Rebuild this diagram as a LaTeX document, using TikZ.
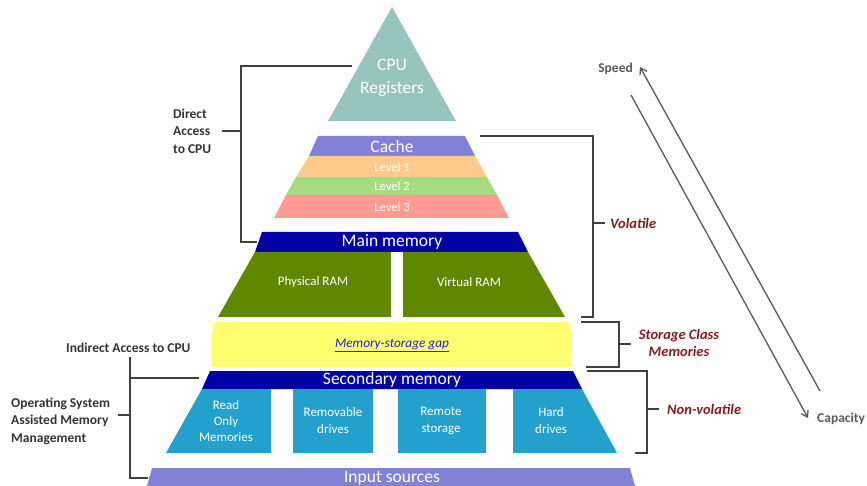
\documentclass[tikz,border=0pt]{standalone}
\usepackage{fontspec}
\setmainfont{Carlito}
\usepackage{tikz}
\usetikzlibrary{arrows.meta,positioning,calc}
\definecolor{regteal}{HTML}{97C4BF}
\definecolor{cachelav}{HTML}{8182D6}
\definecolor{lvlone}{HTML}{FFCA8C}
\definecolor{lvltwo}{HTML}{A6DC7F}
\definecolor{lvlthree}{HTML}{FF9B92}
\definecolor{bandnavy}{HTML}{0303A3}
\definecolor{ramgreen}{HTML}{5F8700}
\definecolor{gapyellow}{HTML}{FFFF70}
\definecolor{diskblue}{HTML}{23A0CB}
\definecolor{linkblue}{HTML}{2323C8}
\definecolor{rangered}{HTML}{8B1A1A}
\definecolor{bracketgray}{HTML}{404040}
\tikzset{
  memtext/.style={
    text=white,
    align=center,
    font=\fontsize{13}{17}\selectfont
  },
  memhead/.style={
    text=white,
    font=\fontsize{17.5}{20}\selectfont
  },
  memlabel/.style={
    text=black!80,
    align=left,
    inner sep=1pt,
    font=\bfseries\fontsize{13.5}{17.5}\selectfont
  },
  memrange/.style={
    text=rangered,
    align=center,
    inner sep=1pt,
    font=\bfseries\itshape\fontsize{14.5}{17}\selectfont
  },
  membracket/.style={
    draw=bracketgray,
    line width=1.1pt
  },
  memtrend/.style={
    -{Straight Barb[length=6pt,width=8pt]},
    draw=black!65,
    line width=1.3pt
  },
  memtrendlabel/.style={
    text=black!65,
    inner sep=1pt,
    font=\bfseries\fontsize{13.5}{14}\selectfont
  }
}
\begin{document}
\begin{tikzpicture}[x=1pt,y=-1pt]
    \useasboundingbox (0,0) rectangle (867,486);
    % pyramid tiers
    \fill[regteal] (392,7) -- (456,121) -- (328,121) -- cycle;
    \fill[cachelav] (318,136) -- (465,136) -- (475,156) -- (309,156) -- cycle;
    \fill[lvlone] (309,156) -- (475,156) -- (487,177) -- (296,177) -- cycle;
    \fill[lvltwo] (296,177) -- (487,177) -- (497,195) -- (286,195) -- cycle;
    \fill[lvlthree] (286,195) -- (497,195) -- (509,218) -- (274,218) -- cycle;
    \fill[bandnavy] (262,232) -- (518,232) -- (528,252) -- (255,252) -- cycle;
    \fill[ramgreen] (255,252) -- (391,252) -- (391,317) -- (218,317) -- cycle;
    \fill[ramgreen] (403,252) -- (528,252) -- (565,317) -- (403,317) -- cycle;
    \fill[gapyellow] (214,322) -- (569,322) .. controls (572,335) and (572,352) .. (571,367)
      -- (212,367) .. controls (211,352) and (211,335) .. cycle;
    \fill[bandnavy] (210,371) -- (573,371) -- (582,389) -- (202,389) -- cycle;
    \fill[diskblue] (202,389) -- (271,389) -- (271,453) -- (166,453) -- cycle;
    \fill[diskblue] (293,389) rectangle (373,453);
    \fill[diskblue] (398,389) rectangle (486,453);
    \fill[diskblue] (513,389) -- (582,389) -- (617,453) -- (513,453) -- cycle;
    \fill[cachelav] (152,468) -- (630,468) -- (635,486) -- (147,486) -- cycle;

    \node[memhead, align=center, font=\fontsize{17.5}{23}\selectfont] (cpu) at (392,78) {CPU\\Registers};
    \node[memhead] (cache) at (392,146) {Cache};
    \node[memtext, font=\fontsize{12.5}{16}\selectfont] (l1) at (392,167) {Level 1};
    \node[memtext, font=\fontsize{12.5}{16}\selectfont] (l2) at (392,186) {Level 2};
    \node[memtext, font=\fontsize{12.5}{16}\selectfont] (l3) at (392,207) {Level 3};
    \node[memhead] (mainmem) at (392,242) {Main memory};
    \node[memtext] (phys) at (313,282) {Physical RAM};
    \node[memtext] (virt) at (469,282) {Virtual RAM};
    \node[text=linkblue, font=\itshape\fontsize{13.3}{15}\selectfont] (gap) at (392,345) {\underline{Memory-storage gap}};
    \node[memhead] (secmem) at (392,380) {Secondary memory};
    \node[memtext, font=\fontsize{13}{16}\selectfont] (rom) at (226,421) {Read\\Only\\Memories};
    \node[memtext] (remov) at (333,421) {Removable\\drives};
    \node[memtext] (remote) at (441,421) {Remote\\storage};
    \node[memtext] (hard) at (551,421) {Hard\\drives};
    \node[memhead] (input) at (392,478) {Input sources};

    % access brackets on the left
    \node[memlabel, anchor=west] (direct) at (172,131) {Direct\\Access\\to CPU};
    \coordinate (dirtop) at (352,66);
    \coordinate (dirspine) at (241,131);
    \coordinate (dirbot) at (257,242);
    \draw[membracket] (dirtop) -| (dirspine) |- (dirbot);
    \draw[membracket] (dirspine) -- ++(-19,0);

    \node[memlabel, anchor=west] (indirect) at (65,348) {Indirect Access to CPU};
    \node[memlabel, anchor=west] (osmm) at (10,421) {Operating System\\Assisted Memory\\Management};
    \coordinate (indtop) at (130,357);
    \coordinate (indspine) at (130,415);
    \coordinate (indsec) at (199,378);
    \coordinate (indbot) at (148,478);
    \draw[membracket] (indtop) -- (indspine) |- (indbot);
    \draw[membracket] (indtop |- indsec) -- (indsec);
    \draw[membracket] (indspine) -- ++(-12,0);

    % volatility brackets on the right
    \node[memrange, anchor=west] (volatile) at (609,223) {Volatile};
    \coordinate (voltop) at (480,136);
    \coordinate (volspine) at (593,223);
    \coordinate (volbot) at (581,317);
    \draw[membracket] (voltop) -| (volspine) |- (volbot);
    \draw[membracket] (volspine) -- ++(12,0);

    \node[memrange] (scm) at (679,343) {Storage Class\\Memories};
    \coordinate (scmtop) at (581,322);
    \coordinate (scmspine) at (619,344);
    \coordinate (scmbot) at (586,367);
    \draw[membracket] (scmtop) -| (scmspine) |- (scmbot);
    \draw[membracket] (scmspine) -- ++(12,0);

    \node[memrange, anchor=west] (nonvol) at (666,409) {Non-volatile};
    \coordinate (nvtop) at (587,371);
    \coordinate (nvspine) at (647,409);
    \coordinate (nvbot) at (635,453);
    \draw[membracket] (nvtop) -| (nvspine) |- (nvbot);
    \draw[membracket] (nvspine) -- ++(12,0);

    % speed / capacity trend
    \node[memtrendlabel, anchor=east] (speed) at (634,69) {Speed};
    \node[memtrendlabel, anchor=west] (capacity) at (816,419) {Capacity};
    \coordinate (spdfoot) at (820,391);
    \coordinate (spdhead) at (640,67);
    \coordinate (capfoot) at (631,95);
    \coordinate (caphead) at (808,418);
    \draw[memtrend] (spdfoot) -- (spdhead);
    \draw[memtrend] (capfoot) -- (caphead);
  \end{tikzpicture}
\end{document}
